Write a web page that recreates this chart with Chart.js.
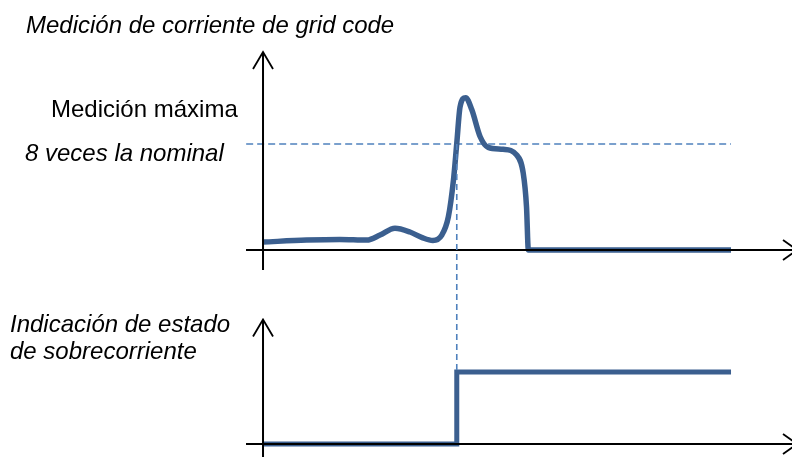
<!DOCTYPE html>
<html>
<head>
<meta charset="utf-8">
<script src="https://cdn.jsdelivr.net/npm/chart.js@4/dist/chart.umd.min.js"></script>
<style>
  html, body { margin: 0; padding: 0; background: #fff; }
  #wrap { position: relative; width: 792px; height: 457px; }
</style>
</head>
<body>
<div id="wrap"><canvas id="grid" width="792" height="457"></canvas></div>
<script>
// Corriente medida (veces la nominal) vs tiempo (0..100)
var currentX = [0, 9.3, 16.4, 22.2, 25.0, 28.2, 31.4, 34.0, 36.3, 38.2, 39.6, 40.7, 41.4, 42.1, 43.3, 44.6, 46.4, 48.1, 51.3, 54.2, 55.6, 56.3, 56.7, 100];
var currentY = [0.6, 0.75, 0.8, 0.75, 1.13, 1.64, 1.36, 0.94, 0.72, 1.13, 2.5, 5.3, 8.05, 10.8, 11.5, 10.6, 8.55, 7.75, 7.6, 7.17, 5.8, 3.27, 0, 0];

// Indicacion de sobrecorriente (0 / 1)
var flagX = [0, 41.4, 41.4, 100];
var flagY = [0, 0, 1, 1];

var threshold = 8;       // 8 veces la nominal
var tripTime = 41.4;     // instante de disparo
var endTime = 100;

var labels = {
  title: 'Medición de corriente de grid code',
  peak: 'Medición máxima',
  nominal: '8 veces la nominal',
  flag1: 'Indicación de estado',
  flag2: 'de sobrecorriente'
};

function toPoints(xs, ys) {
  return xs.map(function(x, i) { return { x: x, y: ys[i] }; });
}

var lineColor = '#3b5f8f';
var dashColor = '#4f81bd';

// Dibuja ejes con flechas, linea vertical punteada y textos
var diagramPlugin = {
  id: 'diagram',
  afterDatasetsDraw: function(chart) {
    var ctx = chart.ctx;
    var x = chart.scales.x, yt = chart.scales.yTop, yb = chart.scales.yBot;
    var x0 = x.getPixelForValue(0);
    var xEnd = chart.width + 5;

    ctx.save();
    ctx.strokeStyle = '#000';
    ctx.lineCap = 'butt';

    function axes(yScale, topVal) {
      var y0 = yScale.getPixelForValue(0);
      var yTip = yScale.getPixelForValue(topVal);
      ctx.lineWidth = 2;
      ctx.beginPath();
      ctx.moveTo(x0 - 17, y0); ctx.lineTo(xEnd, y0);
      ctx.moveTo(x0, y0 + 20); ctx.lineTo(x0, yTip);
      ctx.stroke();
      ctx.lineWidth = 1.8;
      ctx.beginPath();
      ctx.moveTo(x0 - 10, yTip + 17); ctx.lineTo(x0, yTip); ctx.lineTo(x0 + 10, yTip + 17);
      ctx.moveTo(xEnd - 14, y0 - 10); ctx.lineTo(xEnd, y0); ctx.lineTo(xEnd - 14, y0 + 10);
      ctx.stroke();
    }
    axes(yt, 14.95);
    axes(yb, 1.73);

    // linea vertical punteada en el disparo
    ctx.strokeStyle = dashColor;
    ctx.lineWidth = 1.6;
    ctx.setLineDash([6, 4]);
    ctx.beginPath();
    ctx.moveTo(x.getPixelForValue(tripTime), yt.getPixelForValue(threshold));
    ctx.lineTo(x.getPixelForValue(tripTime), yb.getPixelForValue(1));
    ctx.stroke();
    ctx.setLineDash([]);

    // textos
    ctx.fillStyle = '#000';
    ctx.textBaseline = 'alphabetic';
    ctx.textAlign = 'left';
    var fam = '"Liberation Sans", Arial, sans-serif';
    ctx.font = 'italic 24px ' + fam;
    ctx.fillText(labels.title, 26, 33);
    ctx.fillText(labels.nominal, 25, 161);
    ctx.fillText(labels.flag1, 10, 332);
    ctx.fillText(labels.flag2, 10, 359);
    ctx.font = '24px ' + fam;
    ctx.fillText(labels.peak, 51, 117);
    ctx.restore();
  }
};

var chart = new Chart(document.getElementById('grid'), {
  type: 'line',
  data: {
    datasets: [
      {
        label: 'nominal',
        data: toPoints([-3.6, endTime], [threshold, threshold]),
        yAxisID: 'yTop',
        borderColor: dashColor,
        borderWidth: 1.6,
        borderDash: [7, 4],
        pointRadius: 0,
        clip: false,
        order: 2
      },
      {
        label: 'corriente',
        data: toPoints(currentX, currentY),
        yAxisID: 'yTop',
        borderColor: lineColor,
        borderWidth: 5.5,
        cubicInterpolationMode: 'monotone',
        pointRadius: 0,
        clip: false,
        order: 1
      },
      {
        label: 'sobrecorriente',
        data: toPoints(flagX, flagY),
        yAxisID: 'yBot',
        borderColor: lineColor,
        borderWidth: 5,
        borderJoinStyle: 'miter',
        tension: 0,
        pointRadius: 0,
        clip: false,
        order: 1
      }
    ]
  },
  options: {
    responsive: false,
    animation: false,
    layout: { padding: 0 },
    plugins: { legend: { display: false }, tooltip: { enabled: false } },
    scales: {
      x: { type: 'linear', min: -56.2, max: 113.03, display: false },
      yTop: { type: 'linear', min: -15.62, max: 18.87, display: false },
      yBot: { type: 'linear', min: -0.18, max: 6.17, display: false }
    }
  },
  plugins: [diagramPlugin]
});
</script>
</body>
</html>
